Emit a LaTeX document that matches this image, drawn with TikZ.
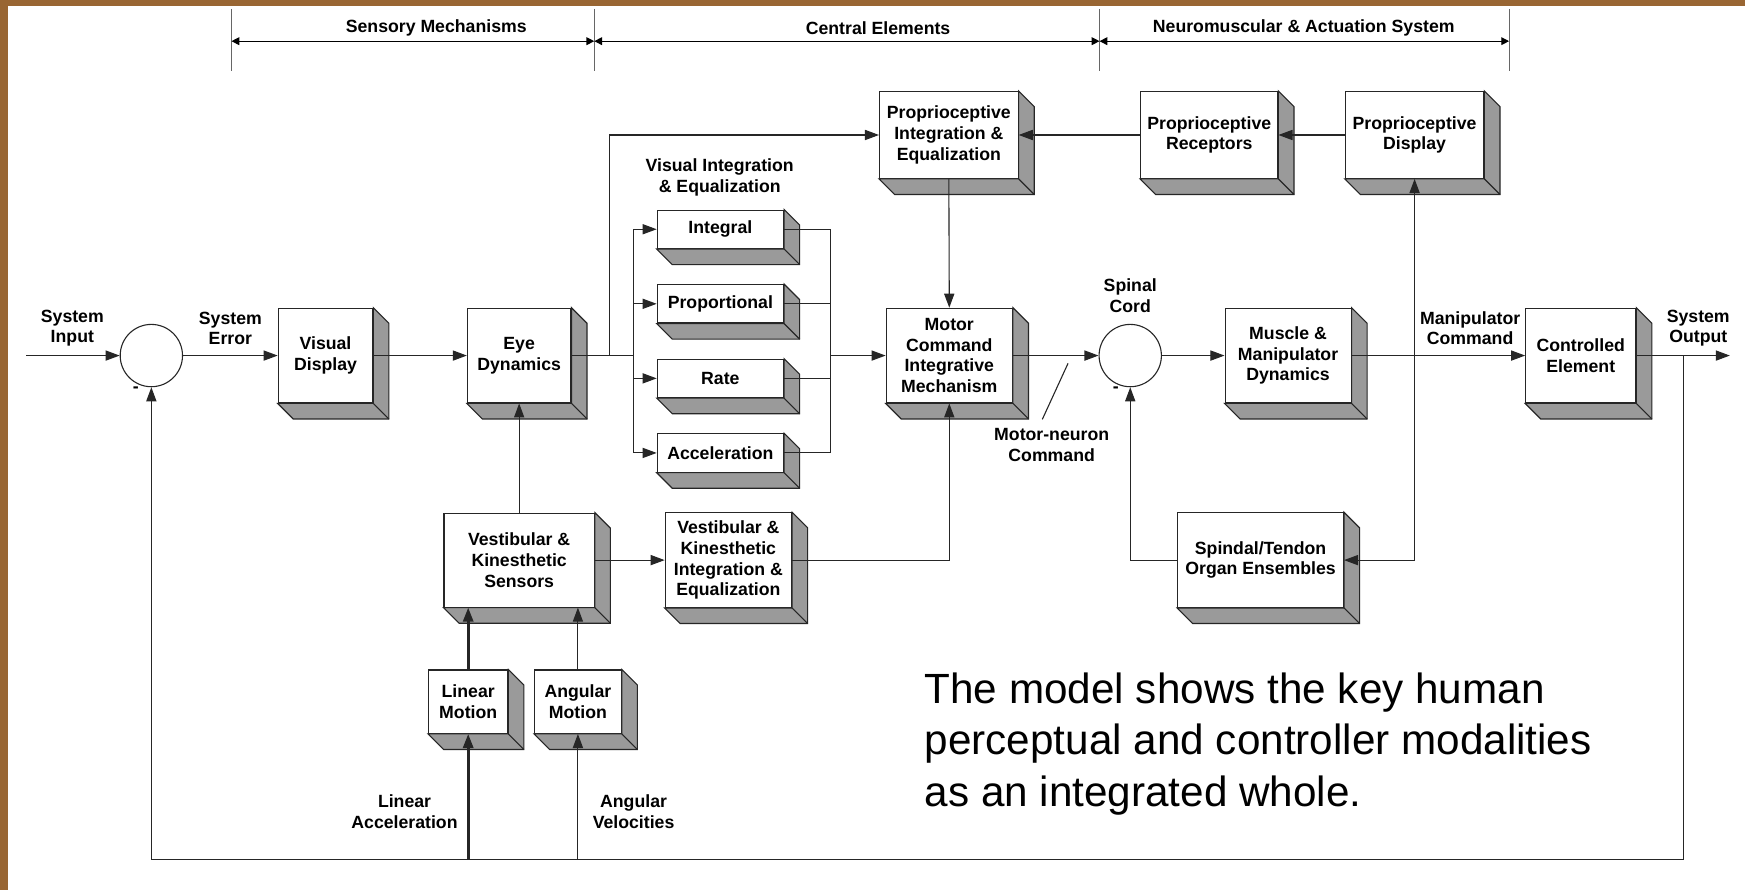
\documentclass[tikz,border=0pt]{standalone}
\usepackage{fontspec}
\setmainfont{Liberation Sans}
\usetikzlibrary{arrows.meta}
\definecolor{framebrown}{RGB}{153,102,51}
\definecolor{depthgray}{RGB}{154,154,154}

\begin{document}
\begin{tikzpicture}[x=0.025cm, y=-0.025cm,
	every node/.style={font=\bfseries\fontsize{11.3}{13.2}\selectfont, align=center, inner sep=0pt},
	wire/.style={draw=black!85, line width=0.7pt},
	sig/.style={wire, -{Triangle[length=9pt,width=6.5pt]}},
	heavy/.style={line width=1.7pt},
	span/.style={draw=black, line width=0.7pt, {Triangle[length=5pt,width=5pt]}-{Triangle[length=5pt,width=5pt]}},
	blok/.style 2 args={draw=black!85, fill=white, line width=0.7pt, minimum width=#1*0.025cm, minimum height=#2*0.025cm},
	junction/.style={draw=black!85, fill=white, line width=0.7pt, circle, minimum size=56*0.025cm}]
	\useasboundingbox (0,0) rectangle (1568,800);
	\fill[white] (0,0) rectangle (1568,800);
	\fill[framebrown] (0,0) rectangle (1568,5.4);
	\fill[framebrown] (0,0) rectangle (6.9,800);

	\foreach \x in {208,534,988,1356}
		\draw[black!60, line width=0.7pt] (\x,8) -- (\x,64);
	\foreach \a/\b in {208/534, 534/988, 988/1356}
		\draw[span] (\a,37) -- (\b,37);
	\node (sensory) at (392,25.5) {Sensory Mechanisms};
	\node (central) at (789,25.5) {Central Elements};
	\node (neuro) at (1171.5,25.5) {Neuromuscular \& Actuation System};

	\node[blok={85}{85}] (vd) at (292.5,319.5) {Visual\\Display};
	\node[blok={93}{85}] (eye) at (466.5,319.5) {Eye\\Dynamics};
	\foreach \n/\y/\t in {int/206/Integral, prop/273/Proportional, rate/340/Rate, acc/407/Acceleration}
		\node[blok={113.5}{34.5}] (\n) at (647.3,\y) {\t};
	\node[blok={124.5}{78}] (pie) at (852.6,121.3) {Proprioceptive\\Integration \&\\Equalization};
	\node[blok={113.4}{85}] (mci) at (853,319.5) {Motor\\Command\\Integrative\\Mechanism};
	\node[blok={123.3}{78}] (prec) at (1086.6,121.3) {Proprioceptive\\Receptors};
	\node[blok={124.5}{78}] (pdisp) at (1271.1,121.3) {Proprioceptive\\Display};
	\node[blok={113.2}{85}] (mmd) at (1157.4,319.5) {Muscle \&\\Manipulator\\Dynamics};
	\node[blok={98.9}{85}] (ce) at (1420.4,319.5) {Controlled\\Element};
	\node[blok={135}{84.4}] (vks) at (466.5,503.3) {Vestibular \&\\Kinesthetic\\Sensors};
	\node[blok={113.5}{85}] (vkie) at (654.5,503.3) {Vestibular \&\\Kinesthetic\\Integration \&\\Equalization};
	\node[blok={149}{85}] (sto) at (1132.7,503.3) {Spindal/Tendon\\Organ Ensembles};
	\node[blok={71.2}{57}] (lm) at (420.7,630.5) {Linear\\Motion};
	\node[blok={77.9}{57}] (am) at (519.3,630.5) {Angular\\Motion};
	\foreach \b in {vd,eye,int,prop,rate,acc,pie,mci,prec,pdisp,mmd,ce,vks,vkie,sto,lm,am} {
		\filldraw[fill=depthgray, draw=black!85, line width=0.7pt] (\b.north east) -- ([shift={(14,14)}]\b.north east) -- ([shift={(14,14)}]\b.south east) -- ([shift={(14,14)}]\b.south west) -- (\b.south west) -- (\b.south east) -- cycle;
		\draw[wire] (\b.south east) -- ([shift={(14,14)}]\b.south east);
	}

	\node[junction] (s1) at (136,319.5) {};
	\node[junction] (s2) at (1015.6,319.5) {};
	\node (minus1) at (122,350) {-};
	\node (minus2) at (1002.6,350) {-};

	\node (sysin) at (65,295) {System\\Input};
	\node (syserr) at (207,295) {System\\Error};
	\node (visint) at (646.7,159.5) {Visual Integration\\\& Equalization};
	\node (spinal) at (1015.6,265.5) {Spinal\\Cord};
	\node (mnc) at (945,400) {Motor-neuron\\Command};
	\node (mancmd) at (1321,295) {Manipulator\\Command};
	\node (sysout) at (1526,295) {System\\Output};
	\node (linacc) at (363.5,729.6) {Linear\\Acceleration};
	\node (angvel) at (569.3,729.6) {Angular\\Velocities};
	\node[font=\fontsize{27}{33}\selectfont, align=left, anchor=west] (note) at (830.6,668.6) {The model shows the key human\\perceptual and controller modalities\\as an integrated whole.};

	\coordinate (in) at (23.4,319.5);
	\coordinate (out) at (1554.4,319.5);
	\coordinate (split1) at (547.7,319.5);
	\coordinate (split2) at (569.3,319.5);
	\coordinate (merge) at (746.5,319.5);
	\coordinate (manip) at (1271.1,319.5);
	\coordinate (tap) at (1512.5,319.5);
	\coordinate (base) at (0,772.2);
	\coordinate (mn1) at (959.7,326.5);
	\coordinate (mn2) at (936.6,376.8);

	\draw[sig] (in) -- (s1.west);
	\draw[sig] (s1.east) -- (vd.west);
	\draw[sig] (vd.east) -- (eye.west);
	\draw[wire] (eye.east) -- (split2);
	\draw[sig] (split1) |- (pie.west);
	\draw[wire] (split2 |- int.west) -- (split2 |- acc.west);
	\foreach \n in {int,prop,rate,acc} {
		\draw[sig] (split2 |- \n.west) -- (\n.west);
		\draw[wire] (\n.east) -- (merge |- \n.east);
	}
	\draw[wire] (merge |- int.east) -- (merge |- acc.east);
	\draw[sig] (merge) -- (mci.west);
	\draw[sig] (pie.south) -- (mci.north);
	\draw[sig] (prec.west) -- (pie.east);
	\draw[sig] (pdisp.west) -- (prec.east);
	\draw[sig] (mci.east) -- (s2.west);
	\draw[sig] (s2.east) -- (mmd.west);
	\draw[sig] (mmd.east) -- (ce.west);
	\draw[sig] (ce.east) -- (out);
	\draw[sig] (tap) -- (tap |- base) -| (s1.south);
	\draw[sig] (manip) -- (pdisp.south);
	\draw[sig] (manip) |- (sto.east);
	\draw[sig] (sto.west) -| (s2.south);
	\draw[sig] (vkie.east) -| (mci.south);
	\draw[sig] (vks.east) -- (vkie.west);
	\draw[sig] (vks.north) -- (eye.south);
	\draw[sig, heavy] (lm.north) -- (lm.north |- vks.south);
	\draw[sig] (am.north) -- (am.north |- vks.south);
	\draw[sig, heavy] (lm.south |- base) -- (lm.south);
	\draw[sig] (am.south |- base) -- (am.south);
	\draw[wire] (mn1) -- (mn2);
\end{tikzpicture}
\end{document}
